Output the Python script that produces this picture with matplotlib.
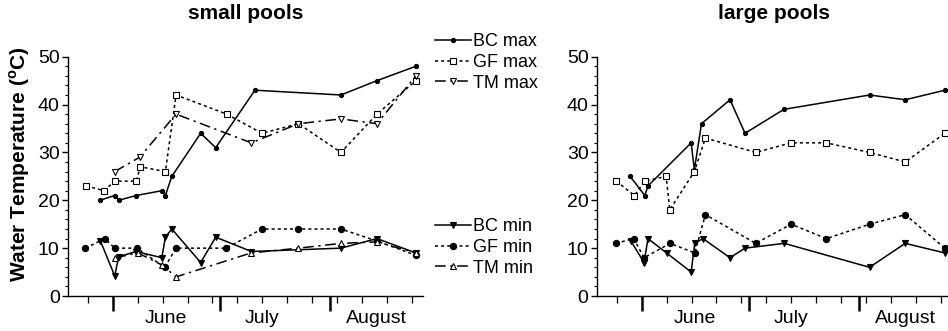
# Water temperature in small and large pools, May-August
import numpy as np
import matplotlib
matplotlib.use('Agg')
import matplotlib.pyplot as plt
from matplotlib.lines import Line2D

plt.rcParams['font.family'] = ['Liberation Sans', 'DejaVu Sans']

# days counted from 1 June
month_starts = [0, 30, 61]
month_names = ['June', 'July', 'August']
month_label_pos = [15, 42, 74]
week_ticks = list(range(-7, 88, 7))

# small pools
s_bc_max_d = [-3.6, 0.6, 1.7, 6.6, 13.8, 14.8, 16.6, 24.7, 28.9, 39.9, 64, 74.1, 85]
s_bc_max = [20, 21, 20, 21, 22, 21, 25, 34, 31, 43, 42, 45, 48]
s_gf_max_d = [-7.4, -2.4, 0.6, 6.6, 7.8, 14.8, 17.8, 32, 41.9, 52.1, 64, 74.1, 85]
s_gf_max = [23, 22, 24, 24, 27, 26, 42, 38, 34, 36, 30, 38, 45]
s_tm_max_d = [0.6, 7.6, 17.8, 38.9, 52.1, 64, 74.1, 85]
s_tm_max = [26, 29, 38, 32, 36, 37, 36, 46]
s_bc_min_d = [-3.4, 0.6, 1.7, 6.6, 13.8, 14.8, 16.6, 24.7, 28.9, 38.9, 64, 74.1, 85]
s_bc_min = [11.5, 4.2, 8.2, 9.3, 8, 12.3, 14, 7, 12.3, 9.3, 10, 12, 9]
s_gf_min_d = [-7.6, -2.2, 0.6, 6.8, 14.6, 17.8, 31.8, 41.9, 52.1, 64, 74.1, 85]
s_gf_min = [10, 12, 10, 10, 6, 10, 10, 14, 14, 14, 11.5, 8.5]
s_tm_min_d = [0.8, 7.1, 13.8, 17.8, 38.8, 52.1, 64, 74.1, 85]
s_tm_min = [8, 9, 6.5, 4, 9, 10, 11, 11.3, 9]

# large pools
l_bc_max_d = [-3.2, 0.9, 1.8, 13.9, 14.8, 16.8, 24.8, 29, 39.9, 63.9, 73.9, 85]
l_bc_max = [25, 21, 23, 32, 26.4, 36, 41, 34, 39, 42, 41, 43]
l_gf_max_d = [-7.1, -2, 0.9, 6.9, 7.9, 14.8, 17.9, 32, 41.9, 51.8, 63.9, 73.9, 85]
l_gf_max = [24, 21, 24, 25, 18, 26, 33, 30, 32, 32, 30, 28, 34]
l_bc_min_d = [-3, 0.7, 1.8, 7, 13.9, 14.9, 17.2, 24.8, 29, 40, 63.9, 73.9, 85]
l_bc_min = [11.5, 7, 12, 9, 5, 11, 12, 8, 10, 11, 6, 11, 9]
l_gf_min_d = [-7.2, -2.2, 0.7, 8, 14.9, 17.9, 32, 41.9, 51.8, 63.9, 73.9, 85]
l_gf_min = [11, 12, 8, 11, 9, 17, 11, 15, 12, 15, 17, 10]

styles = {
    'BC max': dict(ls='-', marker='o', ms=3, mfc='k'),
    'GF max': dict(ls=(0, (2, 2)), marker='s', ms=5, mfc='white'),
    'TM max': dict(ls=(0, (7, 3, 1.5, 3)), marker='v', ms=5, mfc='white'),
    'BC min': dict(ls='-', marker='v', ms=4, mfc='k'),
    'GF min': dict(ls=(0, (2, 2)), marker='o', ms=4.5, mfc='k'),
    'TM min': dict(ls=(0, (7, 3, 1.5, 3)), marker='^', ms=5, mfc='white'),
}

fig = plt.figure(figsize=(9.48, 3.31), dpi=100)
ax1 = fig.add_axes([0.0717, 0.1057, 0.3745, 0.723])
ax2 = fig.add_axes([0.6297, 0.1057, 0.3745, 0.723])


def draw(ax, series):
    for name, d, v in series:
        ax.plot(d, v, color='k', lw=1.1, mec='k', mew=0.8, clip_on=False,
                **styles[name])


draw(ax1, [('BC max', s_bc_max_d, s_bc_max), ('GF max', s_gf_max_d, s_gf_max),
           ('TM max', s_tm_max_d, s_tm_max), ('BC min', s_bc_min_d, s_bc_min),
           ('GF min', s_gf_min_d, s_gf_min), ('TM min', s_tm_min_d, s_tm_min)])
draw(ax2, [('BC max', l_bc_max_d, l_bc_max), ('GF max', l_gf_max_d, l_gf_max),
           ('BC min', l_bc_min_d, l_bc_min), ('GF min', l_gf_min_d, l_gf_min)])

for ax, title in [(ax1, 'small pools'), (ax2, 'large pools')]:
    ax.set_xlim(-12.5, 87)
    ax.set_ylim(0, 50)
    for s in ['top', 'right']:
        ax.spines[s].set_visible(False)
    ax.spines['left'].set_linewidth(1.0)
    ax.spines['bottom'].set_linewidth(1.0)
    ax.set_yticks(range(0, 51, 10))
    ax.set_yticks(range(0, 51, 2), minor=True)
    ax.set_xticks(month_starts)
    ax.set_xticklabels([])
    ax.set_xticks(week_ticks, minor=True)
    ax.tick_params(axis='x', which='major', length=11, width=1.8, direction='out')
    ax.tick_params(axis='x', which='minor', length=5, width=0.9, direction='out')
    ax.tick_params(axis='y', which='major', length=4, width=1.0, labelsize=14, pad=2)
    ax.tick_params(axis='y', which='minor', length=2, width=0.8)
    for name, pos in zip(month_names, month_label_pos):
        ax.text(pos, -0.095, name, transform=ax.get_xaxis_transform(),
                ha='center', va='center', fontsize=14)
    ax.set_title(title, fontsize=15, fontweight='bold', pad=27)

ax1.set_ylabel(r'Water Temperature ($^{\mathregular{o}}$C)', fontsize=15,
               fontweight='bold')
ax1.yaxis.set_label_coords(-0.10, 0.55)


def handles(names):
    return [Line2D([0], [0], color='k', lw=1.1, mec='k', mew=0.8, **styles[n])
            for n in names]


top = ['BC max', 'GF max', 'TM max']
bot = ['BC min', 'GF min', 'TM min']
fig.legend(handles(top), top, loc='center left', bbox_to_anchor=(0.459, 0.811),
           frameon=False, fontsize=13, handlelength=2.0, handletextpad=0.1,
           labelspacing=0.2, borderpad=0, borderaxespad=0)
fig.legend(handles(bot), bot, loc='center left', bbox_to_anchor=(0.459, 0.252),
           frameon=False, fontsize=13, handlelength=2.0, handletextpad=0.1,
           labelspacing=0.2, borderpad=0, borderaxespad=0)

fig.savefig('out.png', dpi=100)
